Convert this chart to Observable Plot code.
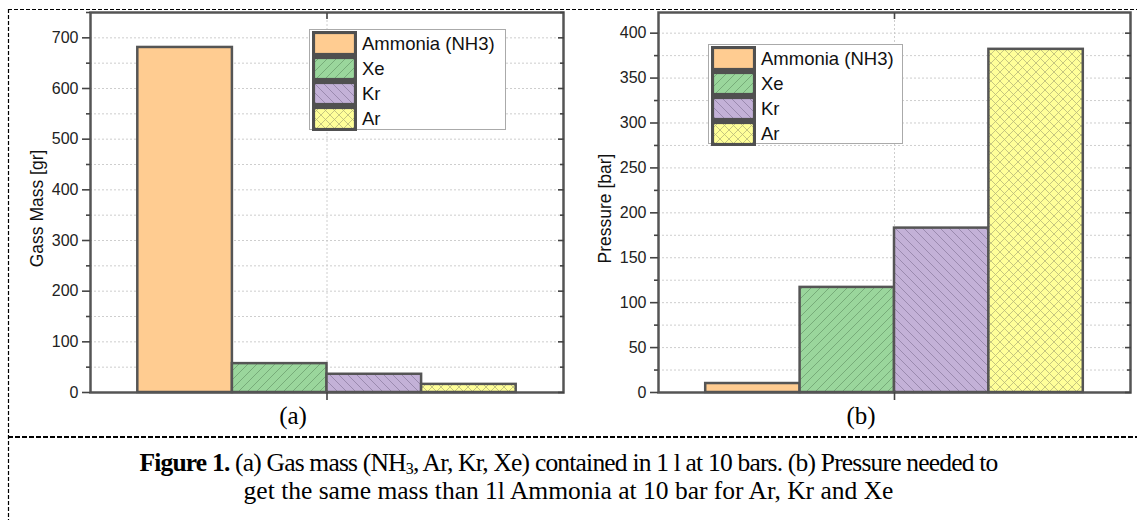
<!DOCTYPE html>
<html><head><meta charset="utf-8">
<script src="https://cdn.jsdelivr.net/npm/d3@7"></script>
<script src="https://cdn.jsdelivr.net/npm/@observablehq/plot@0.6"></script>
<style>
html,body{margin:0;padding:0;background:#fff;}
#wrap{position:relative;width:1137px;height:520px;overflow:hidden;background:#fff;font-family:"Liberation Sans",Arial,sans-serif;}
.abs{position:absolute;}
.legend{position:absolute;border:1px solid #aaa;background:#fff;box-sizing:border-box;}
.lrow{position:absolute;left:2px;height:25px;display:flex;align-items:center;}
.lrow span{font-size:18.5px;color:#111;margin-left:5px;white-space:nowrap;}
.sub{position:absolute;font-family:"Liberation Serif","Times New Roman",serif;font-size:25px;color:#000;transform:translateX(-50%);}
.cap{position:absolute;left:0;width:1137px;text-align:center;font-family:"Liberation Serif","Times New Roman",serif;font-size:25.5px;color:#000;white-space:nowrap;}
#chartA svg text, #chartB svg text{font-family:"Liberation Sans",Arial,sans-serif;}
</style></head><body>
<svg width="0" height="0" style="position:absolute">
  <defs>
    <pattern id="pNH3" patternUnits="userSpaceOnUse" width="8" height="8">
      <rect width="8" height="8" fill="#FFCC91"/>
    </pattern>
    <pattern id="pXe" patternUnits="userSpaceOnUse" width="9" height="9">
      <rect width="9" height="9" fill="#9AD69C"/>
      <path d="M-1,10 L10,-1 M-2,2 L2,-2 M7,11 L11,7" stroke="#6f9f70" stroke-width="0.8"/>
    </pattern>
    <pattern id="pKr" patternUnits="userSpaceOnUse" width="9" height="9">
      <rect width="9" height="9" fill="#C3B1D7"/>
      <path d="M-1,-1 L10,10 M7,-2 L11,2 M-2,7 L2,11" stroke="#8f80a3" stroke-width="0.8"/>
    </pattern>
    <pattern id="pAr" patternUnits="userSpaceOnUse" width="9" height="9">
      <rect width="9" height="9" fill="#FFFF99"/>
      <path d="M-1,10 L10,-1 M-1,-1 L10,10" stroke="#b8b87a" stroke-width="0.8"/>
    </pattern>
  </defs>
</svg>
<div id="wrap">
  <div id="chartA" class="abs" style="left:0;top:0;width:568px;height:400px"></div>
  <div id="chartB" class="abs" style="left:568px;top:0;width:569px;height:400px"></div>
  <div id="legA" class="legend" style="left:309px;top:29px;width:197px;height:101px"></div>
  <div id="legB" class="legend" style="left:708px;top:44px;width:195px;height:100px"></div>
  <div class="sub" style="left:293px;top:402px">(a)</div>
  <div class="sub" style="left:861px;top:402px">(b)</div>
  <div class="cap" style="top:448px;letter-spacing:-0.8px"><b>Figure 1.</b> (a) Gas mass (NH<sub style="font-size:16px;vertical-align:-3px">3</sub>, Ar, Kr, Xe) contained in 1 l at 10 bars. (b) Pressure needed to</div>
  <div class="cap" style="top:476px">get the same mass than 1l Ammonia at 10 bar for Ar, Kr and Xe</div>
  <svg class="abs" style="left:0;top:0" width="1137" height="520">
    <line x1="8" y1="9.5" x2="1137" y2="9.5" stroke="#000" stroke-width="1.2" stroke-dasharray="4,2"/>
    <line x1="8.5" y1="9" x2="8.5" y2="520" stroke="#000" stroke-width="1.2" stroke-dasharray="4,2"/>
    <line x1="8" y1="437" x2="1137" y2="437" stroke="#000" stroke-width="2" stroke-dasharray="5,2"/>
  </svg>
</div>
<script>
const gases = ["Ammonia (NH3)", "Xe", "Kr", "Ar"];
const gasMass = [681, 57, 36, 16];
const pressure = [10, 117, 183, 382];
const massTicks = [0, 100, 200, 300, 400, 500, 600, 700];
const pressureTicks = [0, 50, 100, 150, 200, 250, 300, 350, 400];

const fillOf = {"Ammonia (NH3)": "url(#pNH3)", "Xe": "url(#pXe)", "Kr": "url(#pKr)", "Ar": "url(#pAr)"};

function makeChart({values, ticks, minorStep, yMax, label, width, marginLeft, marginRight}) {
  const data = gases.map((g, i) => ({gas: g, i, v: values[i]}));
  const minor = d3.range(0, yMax + 0.001, minorStep).filter(v => !ticks.includes(v));
  const grid = d3.range(0, yMax + 0.001, minorStep);
  const tickColor = "#444";
  const svg = Plot.plot({
    width, height: 400,
    marginLeft, marginRight, marginTop: 12, marginBottom: 8,
    style: {background: "transparent", color: "#222"},
    x: {domain: [-0.5, 4.5], axis: null},
    y: {domain: [0, yMax], axis: null},
    marks: [
      Plot.gridY(grid.slice(1), {stroke: "#c8c8c8", strokeOpacity: 1, strokeWidth: 0.9, strokeDasharray: "2,2"}),
      Plot.gridX([2], {stroke: "#c8c8c8", strokeOpacity: 1, strokeWidth: 0.9, strokeDasharray: "2,2"}),
      Plot.rectY(data, {x1: d => d.i, x2: d => d.i + 1, y1: 0, y2: "v", fill: d => fillOf[d.gas], stroke: "#555", strokeWidth: 2.5}),
      Plot.frame({stroke: "#555", strokeWidth: 2.5}),
      Plot.axisY({anchor: "left", ticks, tickSize: 8, tickPadding: 4, label: null, stroke: tickColor, strokeWidth: 1.6}),
      Plot.axisY({anchor: "left", ticks: minor, tickSize: 4, tickFormat: () => "", label: null, stroke: tickColor, strokeWidth: 1.6}),
      Plot.axisY({anchor: "right", ticks, tickSize: 6, insetRight: 6, tickFormat: () => "", label: null, stroke: tickColor, strokeWidth: 1.6}),
      Plot.axisY({anchor: "right", ticks: minor, tickSize: 4, insetRight: 4, tickFormat: () => "", label: null, stroke: tickColor, strokeWidth: 1.6}),
      Plot.axisX({anchor: "bottom", ticks: [2], tickSize: 8, tickFormat: () => "", label: null, stroke: tickColor, strokeWidth: 1.6}),
      Plot.axisX({anchor: "top", ticks: [2], tickSize: 6, insetTop: 6, tickFormat: () => "", label: null, stroke: tickColor, strokeWidth: 1.6}),
      Plot.text([label], {frameAnchor: "left", textAnchor: "middle", rotate: -90, dx: -(marginLeft - 37), dy: 6, fill: "#111"})
    ]
  });
  d3.select(svg).selectAll('g[aria-label="y-axis tick label"] text').style("font-size", "16px").style("fill", "#222");
  d3.select(svg).selectAll('g[aria-label="text"] text').style("font-size", "17.5px");
  return svg;
}

document.getElementById("chartA").append(makeChart({
  values: gasMass, ticks: massTicks, minorStep: 50, yMax: 750,
  label: "Gass Mass [gr]", width: 568, marginLeft: 90, marginRight: 5
}));
document.getElementById("chartB").append(makeChart({
  values: pressure, ticks: pressureTicks, minorStep: 25, yMax: 423,
  label: "Pressure [bar]", width: 569, marginLeft: 90, marginRight: 7
}));

function makeLegend(id) {
  const el = document.getElementById(id);
  gases.forEach((g, i) => {
    const row = document.createElement("div");
    row.className = "lrow";
    row.style.top = (1 + i * 25) + "px";
    row.innerHTML = `<svg width="45" height="25"><rect x="1.5" y="1.5" width="42" height="22" fill="${fillOf[g]}" stroke="#505050" stroke-width="3.2"/></svg><span>${g}</span>`;
    el.append(row);
  });
}
makeLegend("legA");
makeLegend("legB");
</script>
</body></html>
